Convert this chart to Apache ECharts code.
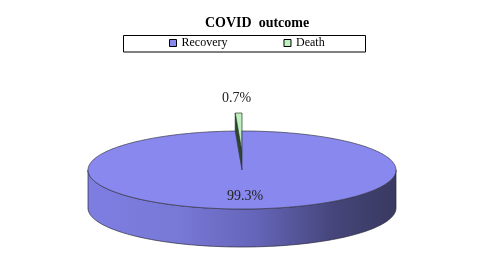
<!DOCTYPE html>
<html><head><meta charset="utf-8">
<script src="https://cdn.jsdelivr.net/npm/echarts@6/dist/echarts.min.js"></script>
<style>html,body{margin:0;padding:0;background:#fff}#c{width:498px;height:275px}</style>
</head><body><div id="c"></div>
<script>
var titleText = 'COVID  outcome';
var categories = ['Recovery', 'Death'];
var values = [99.3, 0.7];
var colors = ['#8888ee', '#bff0bf'];

var chart = echarts.init(document.getElementById('c'), null, {renderer: 'canvas'});
var CX = 242, CY = 170, RX = 154, RY = 39, DEPTH = 38, EXPLODE = 18;
var total = values.reduce(function (a, b) { return a + b; }, 0);

function pt(t, dy) { return [CX + RX * Math.sin(t), CY - RY * Math.cos(t) + (dy || 0)]; }
function arc(t0, t1, dy, n) {
  var pts = [];
  for (var i = 0; i <= n; i++) pts.push(pt(t0 + (t1 - t0) * i / n, dy));
  return pts;
}
function startAngle(idx) {
  var s = 0;
  for (var i = 0; i < idx; i++) s += values[i];
  return s / total * Math.PI * 2;
}

function renderSlice(idx) {
  return function (params, api) {
    var v = api.value(0);
    var t0 = startAngle(idx), t1 = t0 + v / total * Math.PI * 2;
    var children = [];
    var pct = (v / total * 100).toFixed(1) + '%';
    if (idx === 0) {
      var a = Math.max(t0, Math.PI / 2), b = Math.min(t1, Math.PI * 1.5);
      var top = arc(a, b, 0, 120);
      var bot = arc(a, b, DEPTH, 120).reverse();
      children.push({type: 'polygon', shape: {points: top.concat(bot)},
        style: {fill: {type: 'linear', x: 0, y: 0, x2: 1, y2: 0, colorStops: [
          {offset: 0, color: '#7e7ee2'}, {offset: 0.3, color: '#7878d6'},
          {offset: 0.55, color: '#6464b8'}, {offset: 0.8, color: '#45457a'},
          {offset: 1, color: '#393960'}]}, stroke: '#2a2a3a', lineWidth: 0.7}});
      children.push({type: 'polygon', shape: {points: [[CX, CY]].concat(arc(t0, t1, 0, 240))},
        style: {fill: colors[0], stroke: '#3a3a4a', lineWidth: 0.7}});
      children.push({type: 'text', style: {text: pct, x: CX + 3, y: CY + 26, align: 'center', verticalAlign: 'middle',
        font: '14px "Liberation Serif"', fill: '#222'}});
    } else {
      var oy = -EXPLODE;
      children.push({type: 'polygon', shape: {points: [[CX, CY + oy], pt(t0, oy), pt(t0, oy + DEPTH), [CX, CY + oy + DEPTH]]},
        style: {fill: '#2c472c', stroke: '#1a2a1a', lineWidth: 0.7}});
      children.push({type: 'polygon', shape: {points: [[CX, CY + oy]].concat(arc(t0, t1, oy, 8))},
        style: {fill: colors[1], stroke: '#223322', lineWidth: 0.7}});
      children.push({type: 'text', style: {text: pct, x: CX - 5.5, y: 98, align: 'center', verticalAlign: 'middle',
        font: '14px "Liberation Serif"', fill: '#222'}});
    }
    return {type: 'group', children: children};
  };
}

var option = {
  backgroundColor: '#fff',
  animation: false,
  title: {text: titleText, left: 205, top: 16, padding: 0,
    textStyle: {fontFamily: 'Liberation Serif', fontWeight: 'bold', fontSize: 14, color: '#000'}},
  legend: {data: categories, left: 169, top: 37, padding: 0, icon: 'rect', itemWidth: 7, itemHeight: 7, itemGap: 56,
    itemStyle: {borderColor: '#000', borderWidth: 1},
    textStyle: {fontFamily: 'Liberation Serif', fontSize: 12, color: '#000'}},
  graphic: [{type: 'rect', shape: {x: 123.5, y: 35.5, width: 242, height: 16.5},
    style: {fill: 'none', stroke: '#000', lineWidth: 1}, z: -1}],
  series: [
    {type: 'custom', name: categories[1], coordinateSystem: 'none', z: 1,
      itemStyle: {color: colors[1]}, data: [[values[1]]], renderItem: renderSlice(1)},
    {type: 'custom', name: categories[0], coordinateSystem: 'none', z: 2,
      itemStyle: {color: colors[0]}, data: [[values[0]]], renderItem: renderSlice(0)}
  ]
};
chart.setOption(option);
</script></body></html>
